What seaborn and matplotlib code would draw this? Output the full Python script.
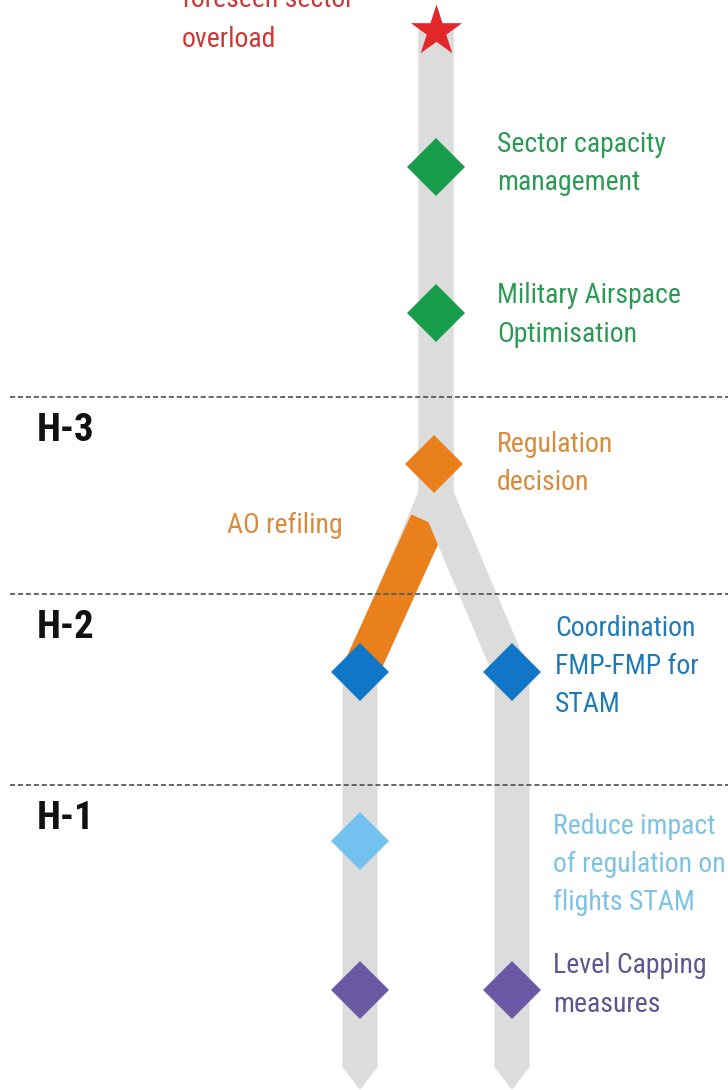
import matplotlib
matplotlib.use("Agg")
import matplotlib.pyplot as plt
import seaborn as sns
import pandas as pd
from matplotlib.patches import Polygon

# decision points along the tracks (pixel-like coordinates, y grows downward)
node_names = ["Sector capacity management", "Military Airspace Optimisation",
              "Regulation decision", "Coordination FMP-FMP (left)",
              "Coordination FMP-FMP (right)", "Reduce impact of regulation",
              "Level Capping (left)", "Level Capping (right)"]
node_x = [436, 436, 434, 360, 512, 360, 360, 512]
node_y = [167, 313, 464, 672, 672, 841, 990, 990]
node_group = ["green", "green", "orange", "blue", "blue", "lightblue", "purple", "purple"]

# time horizons
horizon_labels = ["H-3", "H-2", "H-1"]
horizon_y = [397, 594, 785]

# track geometry (waypoints)
left_x = [436, 436, 360, 360]
left_y = [25, 495, 675, 1068]
right_x = [436, 436, 512, 512]
right_y = [25, 495, 675, 1068]
refile_x = [428, 360]
refile_y = [522, 672]

# text labels: lines, x, first baseline, colour group
label_lines = [["foreseen sector", "overload"],
               ["Sector capacity", "management"],
               ["Military Airspace", "Optimisation"],
               ["Regulation", "decision"],
               ["AO refiling"],
               ["Coordination", "FMP-FMP for", "STAM"],
               ["Reduce impact", "of regulation on", "flights STAM"],
               ["Level Capping", "measures"]]
label_x = [182, 497, 497, 497, 227, 555, 553, 553]
label_y = [7, 152, 303, 452, 533, 636, 834, 973]
label_step = [40, 38, 39, 38, 0, 38, 38, 39]
label_group = ["red", "green", "green", "orange", "orange", "blue", "lightblue", "purple"]

marker_colors = {"green": "#179c49", "orange": "#e9801c", "blue": "#1177c6",
                 "lightblue": "#72c1ee", "purple": "#6a5aa6"}
text_colors = {"red": "#c93a36", "green": "#2b9a55", "orange": "#d98b3c",
               "blue": "#1f7ab8", "lightblue": "#7cc3e5", "purple": "#5e568f"}
track_color = "#dcdcdc"

sns.set_theme(style="white")
plt.rcParams["font.family"] = ["Roboto Condensed", "DejaVu Sans"]

fig = plt.figure(figsize=(7.28, 10.9), dpi=100)
ax = fig.add_axes([0, 0, 1, 1])

lw = 35 * 0.72  # 35 px wide bands
ax.plot(left_x, left_y, color=track_color, lw=lw, solid_joinstyle="miter",
        solid_capstyle="butt", zorder=1)
ax.plot(refile_x, refile_y, color="#e9801c", lw=lw * 1.05, solid_capstyle="butt", zorder=2)
ax.plot(right_x, right_y, color=track_color, lw=lw, solid_joinstyle="miter",
        solid_capstyle="butt", zorder=3)

# pointed ends of the two tracks
for bx in [left_x[-1], right_x[-1]]:
    ax.add_patch(Polygon([(bx - 17.5, 1067), (bx + 17.5, 1067), (bx, 1090)],
                         closed=True, color=track_color, lw=0, zorder=3))

# horizon lines
ax.hlines(horizon_y, 10, 728, colors="#5a5a5a", lw=1.3,
          linestyles=(0, (2.8, 1.6)), zorder=4)
for lab, hy in zip(horizon_labels, horizon_y):
    ax.text(37, hy + 44, lab, fontsize=28, fontweight="bold", color="#111111",
            va="baseline", ha="left")

# star for the foreseen overload
ax.scatter([436], [31], marker="*", s=1500, color="#e3262a", lw=0, zorder=6)

# diamonds
nodes = pd.DataFrame({"name": node_names, "x": node_x, "y": node_y, "group": node_group})
sns.scatterplot(data=nodes, x="x", y="y", hue="group", palette=marker_colors,
                marker="D", s=870, linewidth=0, legend=False, ax=ax, zorder=5)
ax.set_xlim(0, 728)
ax.set_ylim(1090, 0)
ax.axis("off")

# labels
for lines, tx, ty, step, grp in zip(label_lines, label_x, label_y, label_step, label_group):
    for i, line in enumerate(lines):
        ax.text(tx, ty + i * step, line, fontsize=20, color=text_colors[grp],
                va="baseline", ha="left")

fig.savefig("out.png", dpi=100, facecolor="white")
